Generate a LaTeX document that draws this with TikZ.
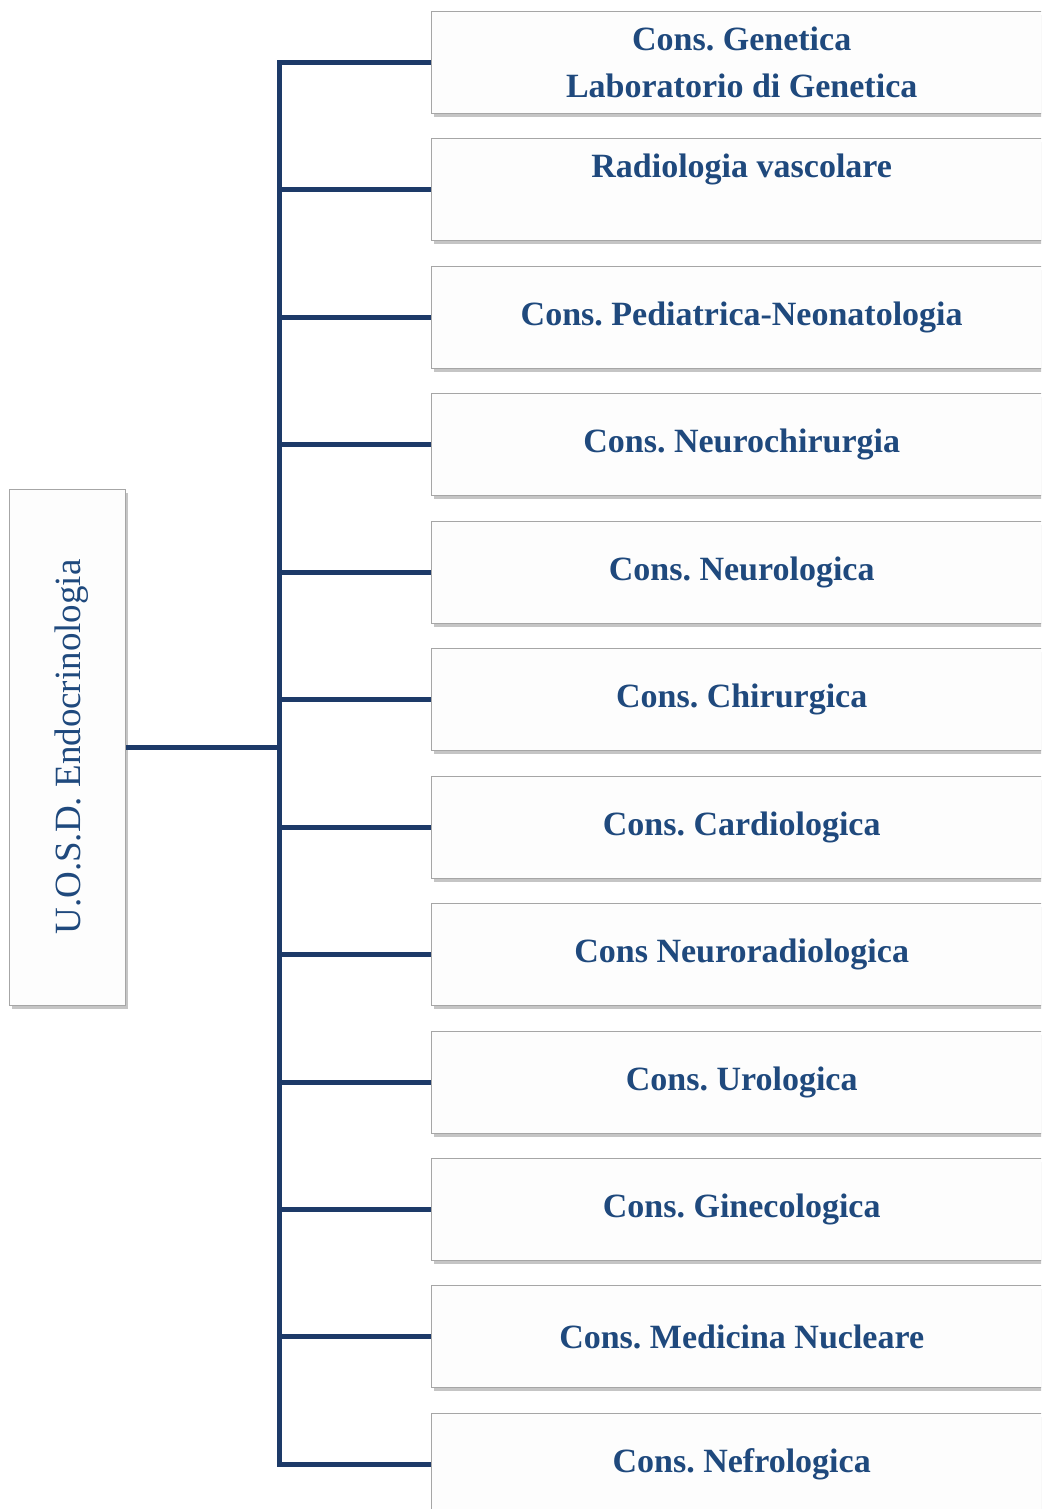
\documentclass[tikz,border=0pt]{standalone}
\usepackage{fontspec}
\setmainfont{Liberation Serif}
\newfontfamily\boxfont{Liberation Serif}
\usetikzlibrary{shadows}
\frenchspacing
\definecolor{navy}{HTML}{1D3A68}
\definecolor{labelblue}{HTML}{1F497D}
\definecolor{boxline}{HTML}{A6A6A6}
\definecolor{boxfill}{HTML}{FDFDFD}
\tikzset{
  unitbox/.style={draw=boxline, line width=1.4pt, fill=boxfill,
    drop shadow={shadow xshift=2pt, shadow yshift=-3pt, fill=black!45, opacity=0.5},
    text=labelblue, inner sep=0pt},
  consbox/.style={unitbox, anchor=north west, minimum width=620pt, minimum height=102pt,
    align=center, font=\boxfont\bfseries\fontsize{34}{47}\selectfont},
  link/.style={draw=navy, line width=5pt},
}
\begin{document}
\begin{tikzpicture}[x=1pt, y=-1pt]
  \useasboundingbox (0,0) rectangle (1041,1509);
  \begin{scope}
    \clip (0,0) rectangle (1041,1509);
    % root unit, rotated label
    \node[unitbox, minimum width=116pt, minimum height=516pt, anchor=north west] (root) at (9,489) {};
    \node[text=labelblue, rotate=90, font=\fontsize{37}{44}\selectfont] (rootlabel) at (72,747) {U.O.S.D. Endocrinologia};
    % consultant services
    \node[consbox] (b1)  at (431,11)   {Cons. Genetica\\Laboratorio di Genetica};
    \node[consbox] (b2)  at (431,138)  {Radiologia vascolare\\\mbox{}};
    \node[consbox] (b3)  at (431,266)  {Cons. Pediatrica-Neonatologia};
    \node[consbox] (b4)  at (431,393)  {Cons. Neurochirurgia};
    \node[consbox] (b5)  at (431,521)  {Cons. Neurologica};
    \node[consbox] (b6)  at (431,648)  {Cons. Chirurgica};
    \node[consbox] (b7)  at (431,776)  {Cons. Cardiologica};
    \node[consbox] (b8)  at (431,903)  {Cons Neuroradiologica};
    \node[consbox] (b9)  at (431,1031) {Cons. Urologica};
    \node[consbox] (b10) at (431,1158) {Cons. Ginecologica};
    \node[consbox] (b11) at (431,1285) {Cons. Medicina Nucleare};
    \node[consbox] (b12) at (431,1413) {Cons. Nefrologica};
    % bus
    \coordinate (bustop) at (279,0);
    \draw[link] (b1.west) -| (bustop |- b1.west) -- (bustop |- b12.west) -- (b12.west);
    \foreach \b in {b2,b3,b4,b5,b6,b7,b8,b9,b10,b11}
      \draw[link] (bustop |- \b.west) -- (\b.west);
    \draw[link] (root.east) -- (bustop |- root.east);
  \end{scope}
\end{tikzpicture}
\end{document}
